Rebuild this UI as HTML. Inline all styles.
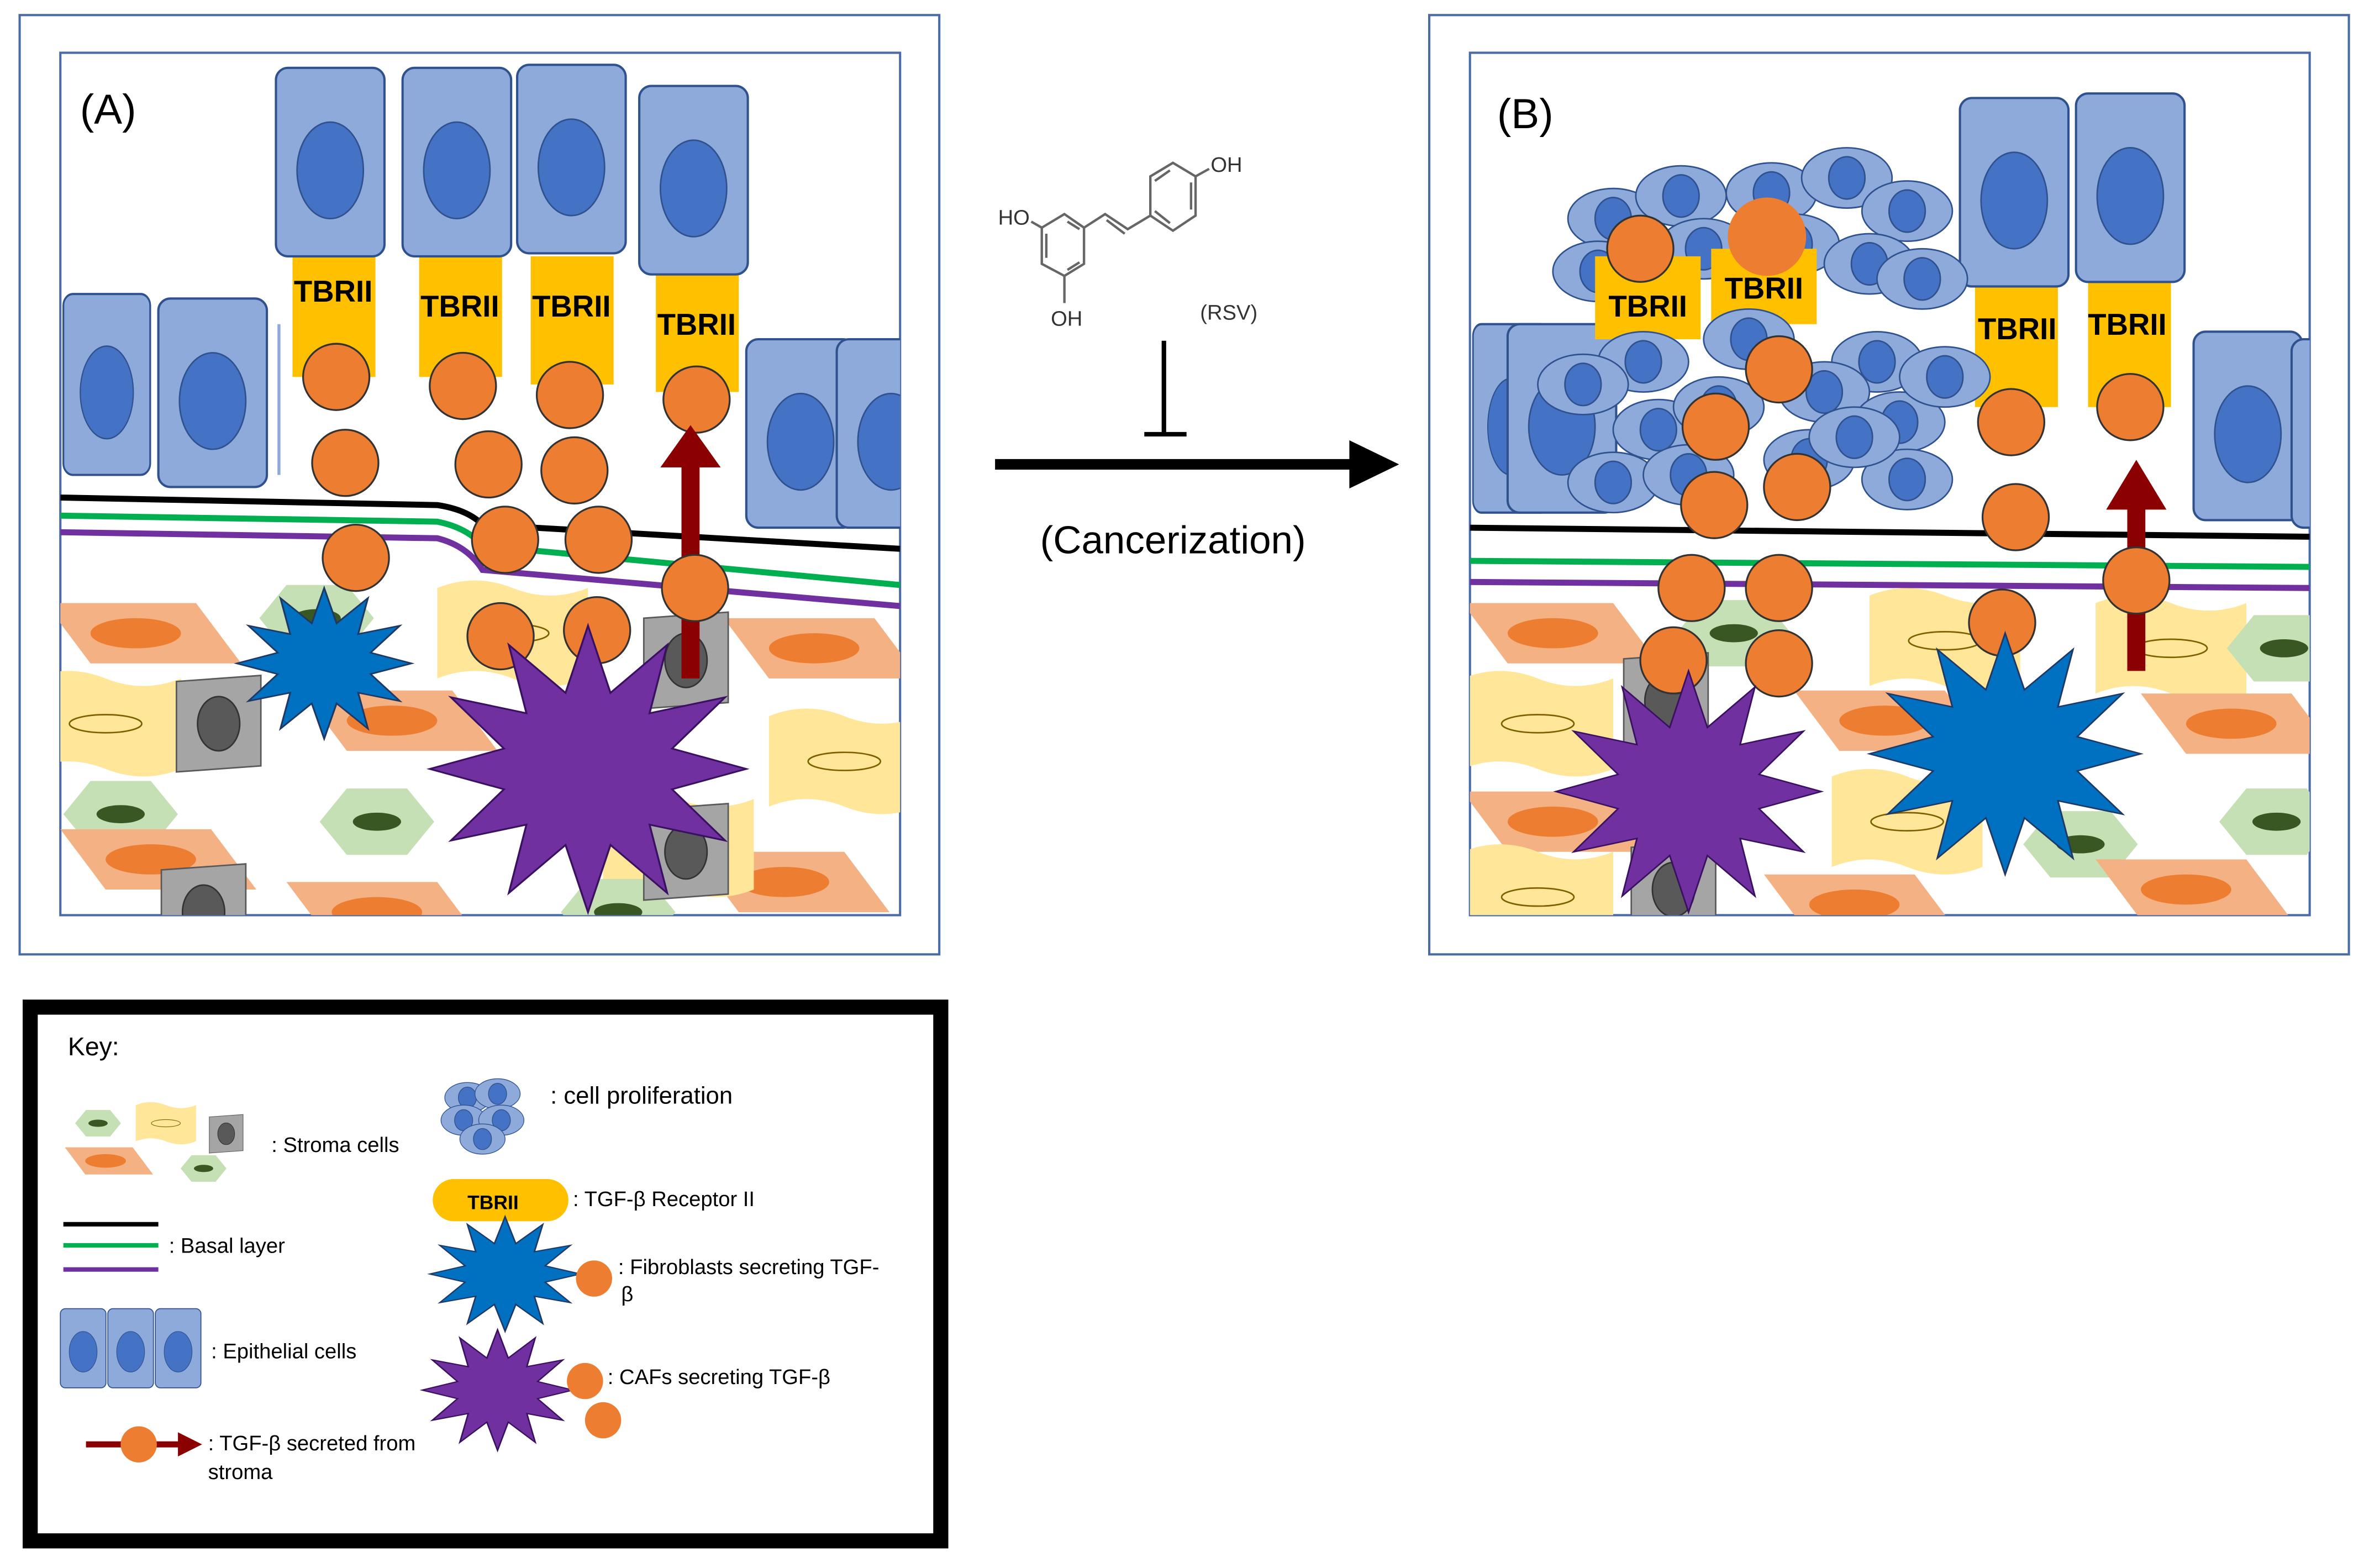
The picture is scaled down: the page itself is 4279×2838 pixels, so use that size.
<!DOCTYPE html>
<html><head><meta charset="utf-8"><style>html,body{margin:0;padding:0;background:#fff}svg{display:block}</style></head><body>
<svg width="4279" height="2838" viewBox="0 0 1568 1040" xmlns="http://www.w3.org/2000/svg" font-family="Liberation Sans, sans-serif">
<defs>
<polygon id="star" points="1,0 .531,.142 .866,.5 .389,.389 .5,.866 .142,.531 0,1 -.142,.531 -.5,.866 -.389,.389 -.866,.5 -.531,.142 -1,0 -.531,-.142 -.866,-.5 -.389,-.389 -.5,-.866 -.142,-.531 0,-1 .142,-.531 .5,-.866 .389,-.389 .866,-.5 .531,-.142"/>
<g id="epi"><rect x="0" y="0" width="72" height="125" rx="8" fill="#8eaadb" stroke="#2f528f" stroke-width="1.5"/><ellipse cx="36" cy="68" rx="22" ry="32" fill="#4472c4" stroke="#2f528f"/></g>
<g id="hex"><polygon points="-38,0 -20,-22 20,-22 38,0 20,22 -20,22" fill="#c5e0b4"/><ellipse cx="0" cy="0" rx="16" ry="6" fill="#385723"/></g>
<g id="par"><polygon points="-60,-20 40,-20 70,20 -30,20" fill="#f4b183"/><ellipse cx="0" cy="0" rx="30" ry="10" fill="#ed7d31"/></g>
<g id="yel"><path d="M-50,-30 Q-25,-40 0,-30 T50,-30 L50,30 Q25,40 0,30 T-50,30 Z" fill="#ffe699"/><ellipse cx="0" cy="0" rx="24" ry="6" fill="none" stroke="#7f6000"/></g>
<g id="gry"><polygon points="-28,-28 28,-32 28,28 -28,32" fill="#a5a5a5" stroke="#595959"/><ellipse cx="0" cy="0" rx="14" ry="18" fill="#595959" stroke="#333"/></g>
<g id="orb"><circle r="22" fill="#ed7d31" stroke="#333" stroke-width="1.2"/></g>
<g id="prol"><ellipse rx="30" ry="20" fill="#8eaadb" stroke="#2f528f"/><ellipse rx="12" ry="14" fill="#4472c4" stroke="#2f528f"/></g>
<clipPath id="ca"><rect x="40" y="35" width="557" height="572"/></clipPath>
<clipPath id="cb"><rect x="975" y="35" width="557" height="572"/></clipPath>
</defs>

<!-- Panel A -->
<rect x="13" y="10" width="610" height="623" fill="#fff" stroke="#4a6aa8" stroke-width="1.5"/>
<rect x="40" y="35" width="557" height="572" fill="#fff" stroke="#4a6aa8" stroke-width="1.5"/>
<g clip-path="url(#ca)">
 <use href="#par" x="90" y="420"/><use href="#hex" x="210" y="410"/><use href="#yel" x="340" y="420"/><use href="#par" x="540" y="430"/>
 <use href="#yel" x="70" y="480"/><use href="#gry" x="145" y="480"/><use href="#par" x="260" y="478"/><use href="#yel" x="560" y="505"/>
 <use href="#hex" x="80" y="540"/><use href="#hex" x="250" y="545"/><use href="#par" x="100" y="570"/><use href="#par" x="520" y="585"/>
 <use href="#yel" x="450" y="560"/><use href="#gry" x="135" y="605"/><use href="#par" x="250" y="605"/><use href="#hex" x="410" y="605"/>
 <use href="#gry" x="455" y="438"/><use href="#gry" x="455" y="565"/>
 <path d="M40,330 L290,335 Q310,338 320,348 L597,364" stroke="#000" stroke-width="4" fill="none"/>
 <path d="M40,342 L290,346 Q310,350 320,362 L597,388" stroke="#00b050" stroke-width="4" fill="none"/>
 <path d="M40,353 L290,357 Q310,362 320,378 L597,402" stroke="#7030a0" stroke-width="4" fill="none"/>
 <use href="#epi" x="42" y="195" transform="translate(42,195) scale(.8,.96) translate(-42,-195)"/>
 <use href="#epi" x="105" y="198"/>
 <line x1="185" y1="215" x2="185" y2="315" stroke="#8eaadb" stroke-width="2"/>
 <use href="#epi" x="495" y="225"/><use href="#epi" x="555" y="225"/>
 <g fill="#ffc000"><rect x="194" y="170" width="55" height="80"/><rect x="278" y="170" width="55" height="80"/><rect x="352" y="170" width="55" height="85"/><rect x="435" y="180" width="55" height="80"/></g>
 <use href="#epi" x="183" y="45"/><use href="#epi" x="267" y="45"/><use href="#epi" x="343" y="43"/><use href="#epi" x="424" y="57"/>
 <g font-weight="bold" font-size="20" text-anchor="middle" fill="#000"><text x="221" y="200">TBRII</text><text x="305" y="210">TBRII</text><text x="379" y="210">TBRII</text><text x="462" y="222">TBRII</text></g>
 <use href="#orb" x="223" y="250"/><use href="#orb" x="307" y="256"/><use href="#orb" x="378" y="262"/><use href="#orb" x="462" y="265"/>
 <use href="#orb" x="229" y="307"/><use href="#orb" x="324" y="308"/><use href="#orb" x="381" y="312"/>
 <use href="#orb" x="236" y="370"/><use href="#orb" x="335" y="358"/><use href="#orb" x="397" y="358"/>
 <use href="#orb" x="332" y="422"/><use href="#orb" x="396" y="418"/>
 <use href="#star" transform="translate(215,440) scale(58,50)" fill="#0070c0" stroke="#203864" stroke-width="0.02"/>
 <use href="#star" transform="translate(390,510) scale(105,95)" fill="#7030a0" stroke="#3a1060" stroke-width="0.012"/>
 <rect x="452" y="305" width="12" height="145" fill="#8b0000"/><polygon points="438,310 458,282 478,310" fill="#8b0000"/>
 <use href="#orb" x="461" y="390"/>
</g>
<text x="53" y="82" font-size="28">(A)</text>

<!-- Middle -->
<g stroke="#666" stroke-width="1.6" fill="none">
 <polygon points="706,142 719,151 719,175 706,183 691,175 691,151"/>
 <line x1="694" y1="155" x2="694" y2="171"/><line x1="708" y1="179" x2="716" y2="174"/><line x1="708" y1="147" x2="716" y2="152"/>
 <polyline points="719,151 733,142 748,152 763,143"/><line x1="734" y1="146" x2="746" y2="155"/>
 <polygon points="778,108 793,117 793,143 778,153 763,143 763,117"/>
 <line x1="766" y1="120" x2="776" y2="113"/><line x1="790" y1="121" x2="790" y2="139"/><line x1="766" y1="140" x2="776" y2="148"/>
 <line x1="691" y1="151" x2="684" y2="147"/><line x1="706" y1="183" x2="706" y2="201"/><line x1="793" y1="117" x2="802" y2="112"/>
</g>
<g font-size="14" fill="#333"><text x="683" y="149" text-anchor="end">HO</text><text x="697" y="216">OH</text><text x="803" y="114">OH</text><text x="796" y="212">(RSV)</text></g>
<line x1="772" y1="226" x2="772" y2="288" stroke="#000" stroke-width="3"/><line x1="759" y1="288" x2="787" y2="288" stroke="#000" stroke-width="3"/>
<line x1="660" y1="308" x2="900" y2="308" stroke="#000" stroke-width="7"/><polygon points="895,292 928,308 895,324" fill="#000"/>
<text x="778" y="367" font-size="26" text-anchor="middle">(Cancerization)</text>

<!-- Panel B -->
<rect x="948" y="10" width="610" height="623" fill="#fff" stroke="#4a6aa8" stroke-width="1.5"/>
<rect x="975" y="35" width="557" height="572" fill="#fff" stroke="#4a6aa8" stroke-width="1.5"/>
<g clip-path="url(#cb)">
 <use href="#par" x="1030" y="420"/><use href="#hex" x="1150" y="420"/><use href="#yel" x="1290" y="425"/><use href="#yel" x="1440" y="430"/><use href="#hex" x="1515" y="430"/>
 <use href="#yel" x="1020" y="480"/><use href="#par" x="1250" y="478"/><use href="#par" x="1480" y="480"/>
 <use href="#par" x="1030" y="545"/><use href="#yel" x="1265" y="545"/><use href="#hex" x="1380" y="560"/><use href="#hex" x="1510" y="545"/>
 <use href="#yel" x="1020" y="595"/><use href="#par" x="1230" y="600"/><use href="#par" x="1450" y="590"/>
 <use href="#gry" x="1105" y="465"/><use href="#gry" x="1110" y="590"/>
 <line x1="975" y1="350" x2="1532" y2="356" stroke="#000" stroke-width="4"/>
 <line x1="975" y1="372" x2="1532" y2="376" stroke="#00b050" stroke-width="4"/>
 <line x1="975" y1="386" x2="1532" y2="390" stroke="#7030a0" stroke-width="4"/>
 <use href="#epi" x="977" y="215" transform="translate(977,215) scale(.7,1) translate(-977,-215)"/>
 <use href="#epi" x="1000" y="215"/>
 <use href="#epi" x="1455" y="220"/><use href="#epi" x="1520" y="225"/>
 <g fill="#ffc000"><rect x="1310" y="180" width="55" height="90"/><rect x="1385" y="180" width="55" height="90"/></g>
 <use href="#epi" x="1300" y="65"/><use href="#epi" x="1377" y="62"/>
 <use href="#prol" x="1070" y="145"/><use href="#prol" x="1115" y="130"/><use href="#prol" x="1175" y="128"/><use href="#prol" x="1225" y="118"/><use href="#prol" x="1265" y="140"/>
 <use href="#prol" x="1060" y="180"/><use href="#prol" x="1130" y="165"/><use href="#prol" x="1190" y="162"/><use href="#prol" x="1240" y="175"/><use href="#prol" x="1275" y="185"/>
 <g fill="#ffc000"><rect x="1058" y="170" width="70" height="55"/><rect x="1135" y="165" width="70" height="50"/></g>
 <use href="#prol" x="1090" y="240"/><use href="#prol" x="1160" y="225"/><use href="#prol" x="1245" y="240"/>
 <use href="#prol" x="1050" y="255"/><use href="#prol" x="1100" y="285"/><use href="#prol" x="1140" y="270"/><use href="#prol" x="1210" y="260"/><use href="#prol" x="1260" y="280"/><use href="#prol" x="1290" y="250"/>
 <use href="#prol" x="1070" y="320"/><use href="#prol" x="1120" y="315"/><use href="#prol" x="1200" y="305"/><use href="#prol" x="1265" y="318"/><use href="#prol" x="1230" y="290"/>
 <g font-weight="bold" font-size="20" text-anchor="middle"><text x="1093" y="210">TBRII</text><text x="1170" y="198">TBRII</text><text x="1338" y="225">TBRII</text><text x="1411" y="222">TBRII</text></g>
 <use href="#orb" x="1088" y="165"/><circle cx="1172" cy="157" r="26" fill="#ed7d31"/>
 <use href="#orb" x="1180" y="245"/><use href="#orb" x="1138" y="283"/><use href="#orb" x="1137" y="335"/><use href="#orb" x="1192" y="323"/>
 <use href="#orb" x="1122" y="390"/><use href="#orb" x="1180" y="390"/><use href="#orb" x="1110" y="438"/><use href="#orb" x="1180" y="440"/>
 <use href="#orb" x="1334" y="280"/><use href="#orb" x="1337" y="343"/><use href="#orb" x="1328" y="413"/><use href="#orb" x="1413" y="270"/>
 <use href="#star" transform="translate(1120,525) scale(88,80)" fill="#7030a0" stroke="#3a1060" stroke-width="0.012"/>
 <use href="#star" transform="translate(1330,500) scale(90,80)" fill="#0070c0" stroke="#203864" stroke-width="0.012"/>
 <rect x="1411" y="330" width="12" height="115" fill="#8b0000"/><polygon points="1397,338 1417,305 1437,338" fill="#8b0000"/>
 <use href="#orb" x="1417" y="385"/>
</g>
<text x="993" y="85" font-size="28">(B)</text>

<!-- Key -->
<rect x="20" y="668" width="604" height="354" fill="#fff" stroke="#000" stroke-width="10"/>
<text x="45" y="700" font-size="17">Key:</text>
<g>
 <g transform="translate(65,745) scale(.4)"><use href="#hex"/></g>
 <g transform="translate(110,745) scale(.4)"><use href="#yel"/></g>
 <g transform="translate(150,752) scale(.4)"><use href="#gry"/></g>
 <g transform="translate(70,770) scale(.45)"><use href="#par"/></g>
 <g transform="translate(135,775) scale(.4)"><use href="#hex"/></g>
</g>
<text x="180" y="764" font-size="14">: Stroma cells</text>
<line x1="42" y1="812" x2="105" y2="812" stroke="#000" stroke-width="3"/>
<line x1="42" y1="826" x2="105" y2="826" stroke="#00b050" stroke-width="3"/>
<line x1="42" y1="842" x2="105" y2="842" stroke="#7030a0" stroke-width="3"/>
<text x="112" y="831" font-size="14">: Basal layer</text>
<g transform="translate(40,868) scale(.42)"><use href="#epi"/><use href="#epi" x="75"/><use href="#epi" x="150"/></g>
<text x="140" y="901" font-size="14">: Epithelial cells</text>
<line x1="57" y1="958" x2="120" y2="958" stroke="#8b0000" stroke-width="4"/><polygon points="118,950 134,958 118,966" fill="#8b0000"/>
<circle cx="92" cy="958" r="12" fill="#ed7d31"/>
<text x="138" y="962" font-size="14">: TGF-β secreted from</text><text x="138" y="981" font-size="14">stroma</text>
<g transform="translate(320,738) scale(.5)"><use href="#prol" x="-20" y="-20"/><use href="#prol" x="20" y="-25"/><use href="#prol" x="-25" y="10"/><use href="#prol" x="25" y="10"/><use href="#prol" x="0" y="35"/></g>
<text x="365" y="732" font-size="16">: cell proliferation</text>
<rect x="287" y="782" width="90" height="28" rx="14" fill="#ffc000"/><text x="327" y="802" font-size="13" text-anchor="middle" font-weight="bold">TBRII</text>
<text x="380" y="800" font-size="14">: TGF-β Receptor II</text>
<use href="#star" transform="translate(335,845) scale(50,38)" fill="#0070c0" stroke="#203864" stroke-width="0.02"/>
<circle cx="394" cy="848" r="12" fill="#ed7d31"/>
<text x="410" y="845" font-size="14">: Fibroblasts secreting TGF-</text><text x="412" y="863" font-size="14">β</text>
<use href="#star" transform="translate(330,922) scale(50,40)" fill="#7030a0" stroke="#3a1060" stroke-width="0.02"/>
<circle cx="388" cy="916" r="12" fill="#ed7d31"/><circle cx="400" cy="942" r="12" fill="#ed7d31"/>
<text x="403" y="918" font-size="14">: CAFs secreting TGF-β</text>
</svg>
</body></html>
